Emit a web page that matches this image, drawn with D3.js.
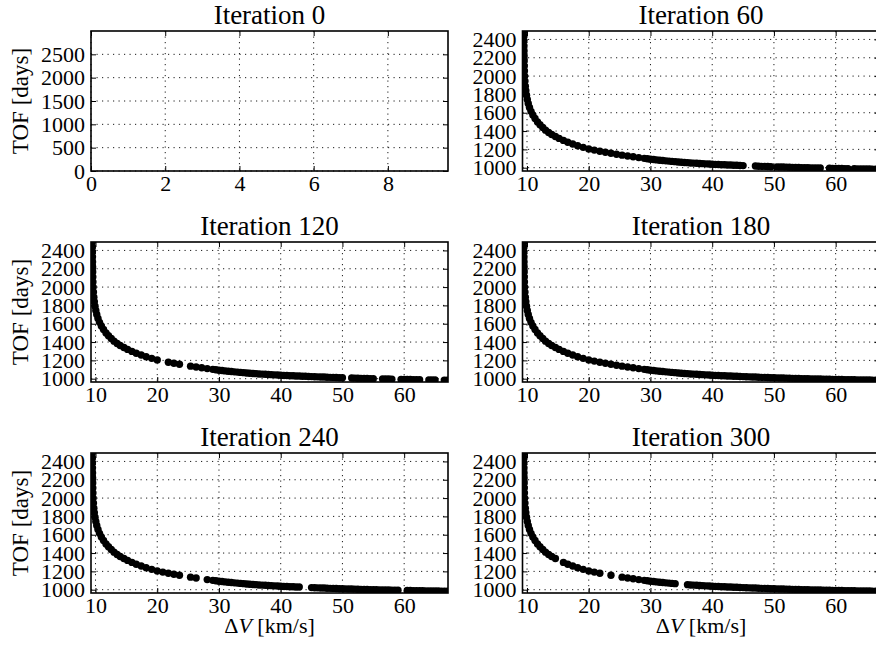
<!DOCTYPE html>
<html><head><meta charset="utf-8">
<script src="https://cdn.jsdelivr.net/npm/d3@7"></script>
<style>body{margin:0;background:#fff} svg{display:block} text{font-family:"Liberation Serif","DejaVu Serif",serif}</style>
</head><body>
<svg id="chart" width="876" height="647"></svg>
<script>
// ---- data ----
const iterations = [0, 60, 120, 180, 240, 300];
// Pareto front (ΔV km/s, TOF days)
const frontDV = [9.48, 9.49, 9.50, 9.51, 9.52, 9.53, 9.545, 9.56, 9.58, 9.62,
  9.67, 9.73, 9.81, 9.92, 10.05, 10.2, 10.4, 10.65, 10.95, 11.3,
  11.7, 12.1, 12.55, 13.0, 13.5, 14.0, 14.6, 15.2, 15.9, 16.6,
  17.4, 18.2, 19.1, 20.0, 20.9, 21.8, 22.7, 23.6, 24.5, 25.4,
  26.3, 27.2, 28.1, 29.0, 29.5, 30, 30.5, 31, 31.5, 32, 32.5, 33, 33.5, 34, 34.5,
  35, 35.5, 36, 36.5, 37, 37.5, 38, 38.5, 39, 39.5, 40, 40.5, 41, 41.5, 42, 42.5,
  43, 43.5, 44, 44.5, 45, 45.5, 46, 46.5, 47, 47.5, 48, 48.5, 49, 49.5, 50, 50.5,
  51, 51.5, 52, 52.5, 53, 53.5, 54, 54.5, 55, 55.5, 56, 56.5, 57, 57.5, 58, 58.5,
  59, 59.5, 60, 60.5, 61, 61.5, 62, 62.5, 63, 63.5, 64, 64.5, 65, 65.5, 66, 66.5, 67];
const frontTOF = [2495, 2440, 2385, 2330, 2275, 2220, 2165, 2110, 2055, 2000,
  1945, 1890, 1840, 1790, 1745, 1700, 1658, 1615, 1575, 1537,
  1500, 1468, 1438, 1410, 1385, 1362, 1340, 1320, 1298, 1278,
  1258, 1240, 1222, 1205, 1192, 1180, 1168, 1157, 1147, 1137,
  1128, 1119, 1110, 1102, 1097, 1093, 1089, 1085, 1081, 1078, 1075, 1072, 1069, 1066, 1063,
  1060, 1057, 1055, 1052, 1050, 1048, 1046, 1044, 1042, 1040, 1038, 1036, 1035, 1033, 1032, 1030,
  1029, 1027, 1026, 1024, 1023, 1021, 1020, 1019, 1018, 1016, 1015, 1014, 1013, 1011, 1010, 1009,
  1008, 1007, 1006, 1005, 1004, 1003, 1002, 1001, 1000, 999, 998, 997.5, 997, 996, 995, 994.5,
  994, 993, 992, 991.5, 991, 990, 989, 988.5, 988, 987.5, 987, 986.5, 986, 985.5, 985, 984.5, 984];
// ΔV values of the front that are absent in each iteration's population
const missing0 = null; // iteration 0: no points drawn
const missing60 = [45.5, 46, 46.5, 50, 58, 58.5, 62.5];
const missing120 = [20.9, 24.5, 50.5, 51, 55.5, 56, 58.5, 59, 63, 63.5, 65.5, 66];
const missing180 = [];
const missing240 = [24.5, 27.2, 43.5, 44, 44.5, 59.5, 60];
const missing300 = [15.2, 22.7, 24.5, 34.5, 35, 35.5];
const missingByPanel = [missing0, missing60, missing120, missing180, missing240, missing300];

const xTicksFirst = [0, 2, 4, 6, 8];
const yTicksFirst = [0, 500, 1000, 1500, 2000, 2500];
const xTicks = [10, 20, 30, 40, 50, 60];
const yTicks = [1000, 1200, 1400, 1600, 1800, 2000, 2200, 2400];
const xDomainFirst = [0, 9.62], yDomainFirst = [0, 3000];
const xDomain = [9.27, 67.1], yDomain = [964, 2492];

// ---- layout ----
const svg = d3.select('#chart');
const FONT = '"Liberation Serif", "DejaVu Serif", serif';
const W = 357, H = 140;
const cols = [91, 522.5], rows = [31, 242, 453];

iterations.forEach((it, i) => {
  const first = i === 0;
  const x0 = cols[i % 2], y0 = rows[Math.floor(i / 2)];
  const g = svg.append('g').attr('transform', `translate(${x0},${y0})`);
  const x = d3.scaleLinear().domain(first ? xDomainFirst : xDomain).range([0, W]);
  const y = d3.scaleLinear().domain(first ? yDomainFirst : yDomain).range([H, 0]);
  const xt = first ? xTicksFirst : xTicks, yt = first ? yTicksFirst : yTicks;

  // grid
  const grid = g.append('g').attr('stroke', '#000').attr('stroke-width', 0.9)
    .attr('stroke-dasharray', '1.2,4.3');
  grid.selectAll('.gx').data(xt).join('line').attr('class', 'gx')
    .attr('x1', d => x(d)).attr('x2', d => x(d)).attr('y1', 0).attr('y2', H);
  grid.selectAll('.gy').data(yt).join('line').attr('class', 'gy')
    .attr('y1', d => y(d)).attr('y2', d => y(d)).attr('x1', 0).attr('x2', W);

  // points
  const clipId = 'clip' + i;
  g.append('clipPath').attr('id', clipId).append('rect').attr('width', W).attr('height', H);
  const miss = missingByPanel[i];
  const pts = miss === null ? [] :
    frontDV.map((d, k) => ({dv: d, tof: frontTOF[k]})).filter(p => !miss.includes(p.dv));
  g.append('g').attr('clip-path', `url(#${clipId})`)
    .selectAll('circle').data(pts).join('circle')
    .attr('cx', d => x(d.dv)).attr('cy', d => y(d.tof)).attr('r', 3.7).attr('fill', '#000');

  // axes (ticks inside, all four sides)
  const styleAxis = sel => {
    sel.select('.domain').remove();
    sel.selectAll('.tick line').attr('stroke', '#000').attr('stroke-width', 1);
    sel.selectAll('text').attr('fill', '#000').style('font-family', FONT);
    sel.attr('font-family', FONT).attr('font-size', 22);
  };
  g.append('g').attr('transform', `translate(0,${H})`)
    .call(d3.axisBottom(x).tickValues(xt).tickFormat(d3.format('d')).tickSize(-5).tickPadding(4)).call(styleAxis);
  g.append('g')
    .call(d3.axisLeft(y).tickValues(yt).tickFormat(d3.format('d')).tickSize(-5).tickPadding(6)).call(styleAxis);
  g.append('g')
    .call(d3.axisTop(x).tickValues(xt).tickFormat('').tickSize(-5)).call(styleAxis);
  g.append('g').attr('transform', `translate(${W},0)`)
    .call(d3.axisRight(y).tickValues(yt).tickFormat('').tickSize(-5)).call(styleAxis);

  // frame
  g.append('rect').attr('width', W).attr('height', H).attr('fill', 'none')
    .attr('stroke', '#000').attr('stroke-width', 1.6);

  // title
  g.append('text').attr('x', W / 2).attr('y', -7).attr('text-anchor', 'middle')
    .style('font-family', FONT).attr('font-size', 27).attr('fill', '#000')
    .text('Iteration ' + it);

  // y label
  if (i % 2 === 0) {
    svg.append('text').attr('transform', `translate(28,${y0 + H / 2}) rotate(-90)`)
      .attr('text-anchor', 'middle').style('font-family', FONT).attr('font-size', 23)
      .attr('fill', '#000').text('TOF [days]');
  }
  // x label
  if (i >= 4) {
    const t = svg.append('text').attr('x', x0 + W / 2).attr('y', y0 + H + 40)
      .attr('text-anchor', 'middle').style('font-family', FONT).attr('font-size', 22).attr('fill', '#000');
    t.append('tspan').text('Δ');
    t.append('tspan').attr('font-style', 'italic').text('V');
    t.append('tspan').text(' [km/s]');
  }
});
</script>
</body></html>
